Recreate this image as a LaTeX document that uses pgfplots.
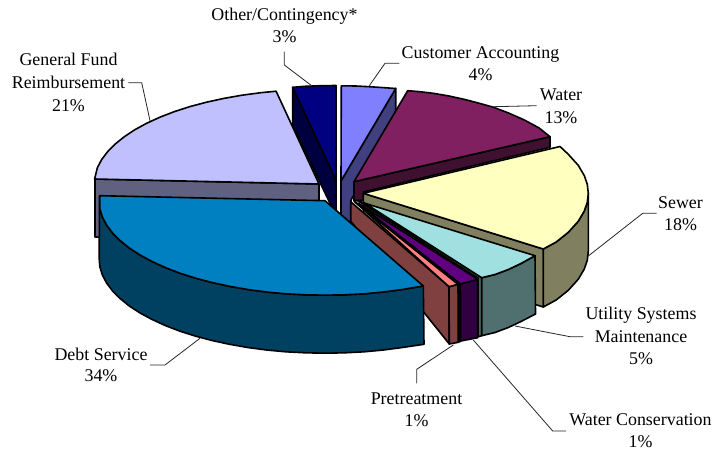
\documentclass[border=0pt]{standalone}
\usepackage{fontspec}
\setmainfont{Liberation Serif}
\usepackage{pgfplots}
\pgfplotsset{compat=1.18}
\definecolor{cTop}{HTML}{8080FF}\definecolor{cSide}{HTML}{404080}
\definecolor{wTop}{HTML}{802060}\definecolor{wSide}{HTML}{401030}
\definecolor{sTop}{HTML}{FFFFC0}\definecolor{sSide}{HTML}{808060}
\definecolor{uTop}{HTML}{A0E0E0}\definecolor{uSide}{HTML}{507070}
\definecolor{vTop}{HTML}{600080}\definecolor{vSide}{HTML}{300040}
\definecolor{pTop}{HTML}{FF8080}\definecolor{pSide}{HTML}{804040}
\definecolor{dTop}{HTML}{0080C0}\definecolor{dSide}{HTML}{004060}
\definecolor{gTop}{HTML}{C0C0FF}\definecolor{gSide}{HTML}{606080}
\definecolor{oTop}{HTML}{000080}\definecolor{oSide}{HTML}{000040}
\tikzset{
  lab/.style={anchor=base,font=\fontsize{17.9}{20}\selectfont,inner sep=0pt,text=black},
  lead/.style={line width=0.8pt,draw=black!85},
}
\begin{document}
\begin{tikzpicture}
\begin{axis}[
  width=718pt,height=453pt,scale only axis,
  xmin=0,xmax=718,ymin=0,ymax=453,y dir=reverse,
  hide axis,clip=false,
  every axis plot/.append style={line width=1.6pt,line join=round,draw=black,mark=none},
]
\path (axis cs:0,0) rectangle (axis cs:718,453);
% Other / Contingency
\addplot[fill=oSide] coordinates {(292.7,87.3)(336,180)(336,216)(292.7,125)} --cycle;
\addplot[fill=oTop] coordinates {(336,180)(292.7,87.3)(305,86.3)(320,85.7)(336,85.5)} --cycle;
% Customer Accounting
\addplot[fill=cSide] coordinates {(395.7,88.3)(341,181)(341,216)(351,226)(351,200)(395.7,122)} --cycle;
\addplot[fill=cTop] coordinates {(341,181)(341.3,85.8)(356,86)(371,86.8)(386,87.8)(395.7,88.5)} --cycle;
% Water
\addplot[fill=wSide] coordinates {(354,181.7)(550,136.7)(550,147.3)(363.3,192)(363.3,200)(354,201)} --cycle;
\addplot[fill=wTop] coordinates {(354,181.7)(407.7,90.7)(419,91.6)(434,93.4)(449,96)(464,99.3)(479,103.2)(493.3,107.2)(509,113.2)(524,119.8)(539,127.9)(550,136.7)} --cycle;
% General Fund Reimbursement
\addplot[fill=gSide] coordinates {(95,179)(319,184)(319,242)(95,237)} --cycle;
\addplot[fill=gTop] coordinates {(319,184)(276.1,91.2)(260.8,92.7)(242,95.2)(223.9,98.4)(206.5,102.2)(189.9,106.6)(174.4,111.6)(159.9,117.2)(146.6,123.3)(134.7,129.8)(124.2,136.8)(115.1,144.1)(107.6,151.7)(101.7,159.5)(97.4,167.6)(94.6,179)} --cycle;
% Sewer
\addplot[fill=sSide] coordinates {(363.3,193.3)(543.3,249)(543.3,307)(363.3,251)} --cycle;
\addplot[fill=sSide] coordinates {(588.3,193.3)(587.3,202.2)(584.3,211)(578.3,221.2)(568.3,232.3)(556.3,241.9)(543.3,249)(543.3,307)(556.3,299.9)(568.3,290.3)(578.3,279.2)(584.3,269)(587.3,260.2)(588.3,251.3)} --cycle;
\addplot[fill=sTop] coordinates {(363.3,193.3)(560,146.5)(568.3,154.3)(578.3,165.4)(584.3,175.6)(587.3,184.4)(588.3,193.3)(587.3,202.2)(584.3,211)(578.3,221.2)(568.3,232.3)(556.3,241.9)(543.3,249)} --cycle;
% Utility Systems Maintenance
\addplot[fill=uSide] coordinates {(356.7,200)(478.3,278.3)(478.3,336.7)(481.7,335.7)(481.7,277.7)(365,203.3)} --cycle;
\addplot[fill=uSide] coordinates {(481.7,277.7)(495,274.5)(508.3,269.5)(521,263.5)(535,255.7)(535.5,314)(521,321.5)(508.3,327.5)(495,332.5)(481.7,335.7)} --cycle;
\addplot[fill=uTop] coordinates {(365,203.3)(535,255.7)(521,263.5)(508.3,269.5)(495,274.5)(481.7,277.7)} --cycle;
% Water Conservation
\addplot[fill=black] coordinates {(355,202)(459,284)(459,342)(461,341)(461,284)} --cycle;
\addplot[fill=vSide] coordinates {(460.5,284)(477.7,279.3)(477.7,337.7)(460.7,341)} --cycle;
\addplot[fill=vTop] coordinates {(358,203)(477.7,279.3)(460.5,284)} --cycle;
% Pretreatment
\addplot[fill=pSide] coordinates {(350.7,201.7)(449,286.7)(449.3,344)(350.7,221)} --cycle;
\addplot[fill=pSide] coordinates {(449,286.7)(458,284.3)(458.3,342.3)(449.3,344)} --cycle;
\addplot[fill=pTop] coordinates {(355,202)(458,284.3)(449,286.7)} --cycle;
% Debt Service
\addplot[fill=dSide] coordinates {(423.3,286)(402.3,289.5)(383.5,292)(364.2,293.8)(344.7,294.8)(325,295.2)(305.3,294.8)(285.8,293.8)(266.5,292)(247.7,289.5)(229.5,286.3)(212,282.5)(195.4,278.1)(179.7,273.1)(165.2,267.5)(151.9,261.4)(139.9,254.9)(129.3,248)(120.2,240.6)(112.6,233)(106.7,225.2)(102.4,217.1)(99.9,209)(99.5,196)
 (99.2,258.7)(99.9,267)(102.4,275.1)(106.7,283.2)(112.6,291)(120.2,298.6)(129.3,306)(139.9,312.9)(151.9,319.4)(165.2,325.5)(179.7,331.1)(195.4,336.1)(212,340.5)(229.5,344.3)(247.7,347.5)(266.5,350)(285.8,351.8)(305.3,352.8)(325,353.2)(344.7,352.8)(364.2,351.8)(383.5,350)(402.3,347.5)(424,344.3)} --cycle;
\addplot[fill=dTop] coordinates {(325,200.7)(423.3,286)(402.3,289.5)(383.5,292)(364.2,293.8)(344.7,294.8)(325,295.2)(305.3,294.8)(285.8,293.8)(266.5,292)(247.7,289.5)(229.5,286.3)(212,282.5)(195.4,278.1)(179.7,273.1)(165.2,267.5)(151.9,261.4)(139.9,254.9)(129.3,248)(120.2,240.6)(112.6,233)(106.7,225.2)(102.4,217.1)(99.9,209)(99.9,195.7)} --cycle;
% leader lines
\addplot[lead] coordinates {(284.3,51.7)(284.3,65)(311.7,85.7)};
\addplot[lead] coordinates {(128.3,82.7)(141.7,82.7)(150,120.7)};
\addplot[lead] coordinates {(369.3,85.7)(385,63.3)(399.3,63.3)};
\addplot[lead] coordinates {(493.3,106.7)(536.7,105.7)};
\addplot[lead] coordinates {(588.3,256)(642.7,213.3)(656.7,213.3)};
\addplot[lead] coordinates {(515,326)(570,336.7)(583.3,336.7)};
\addplot[lead] coordinates {(453.3,345)(416.7,369.3)(416.7,383.3)};
\addplot[lead] coordinates {(473.3,340)(552.7,431)(566,431)};
\addplot[lead] coordinates {(200,338.3)(165,365)(150,365)};
% labels
\node[lab] at (axis cs:284.5,20.7) {Other/Contingency*};
\node[lab] at (axis cs:284.5,42.7) {3\%};
\node[lab] at (axis cs:68.5,65) {General Fund};
\node[lab] at (axis cs:68.5,88) {Reimbursement};
\node[lab] at (axis cs:68.5,111) {21\%};
\node[lab] at (axis cs:480.5,58.3) {Customer Accounting};
\node[lab] at (axis cs:480.5,80) {4\%};
\node[lab] at (axis cs:561,100) {Water};
\node[lab] at (axis cs:561,123.3) {13\%};
\node[lab] at (axis cs:680.5,208.3) {Sewer};
\node[lab] at (axis cs:680.5,230) {18\%};
\node[lab] at (axis cs:641,319.3) {Utility Systems};
\node[lab] at (axis cs:641,342.3) {Maintenance};
\node[lab] at (axis cs:641,364) {5\%};
\node[lab] at (axis cs:416.5,404) {Pretreatment};
\node[lab] at (axis cs:416.5,426) {1\%};
\node[lab] at (axis cs:640.5,425) {Water Conservation};
\node[lab] at (axis cs:640.5,447.7) {1\%};
\node[lab] at (axis cs:101,360) {Debt Service};
\node[lab] at (axis cs:101,381.7) {34\%};
\end{axis}
\end{tikzpicture}
\end{document}
